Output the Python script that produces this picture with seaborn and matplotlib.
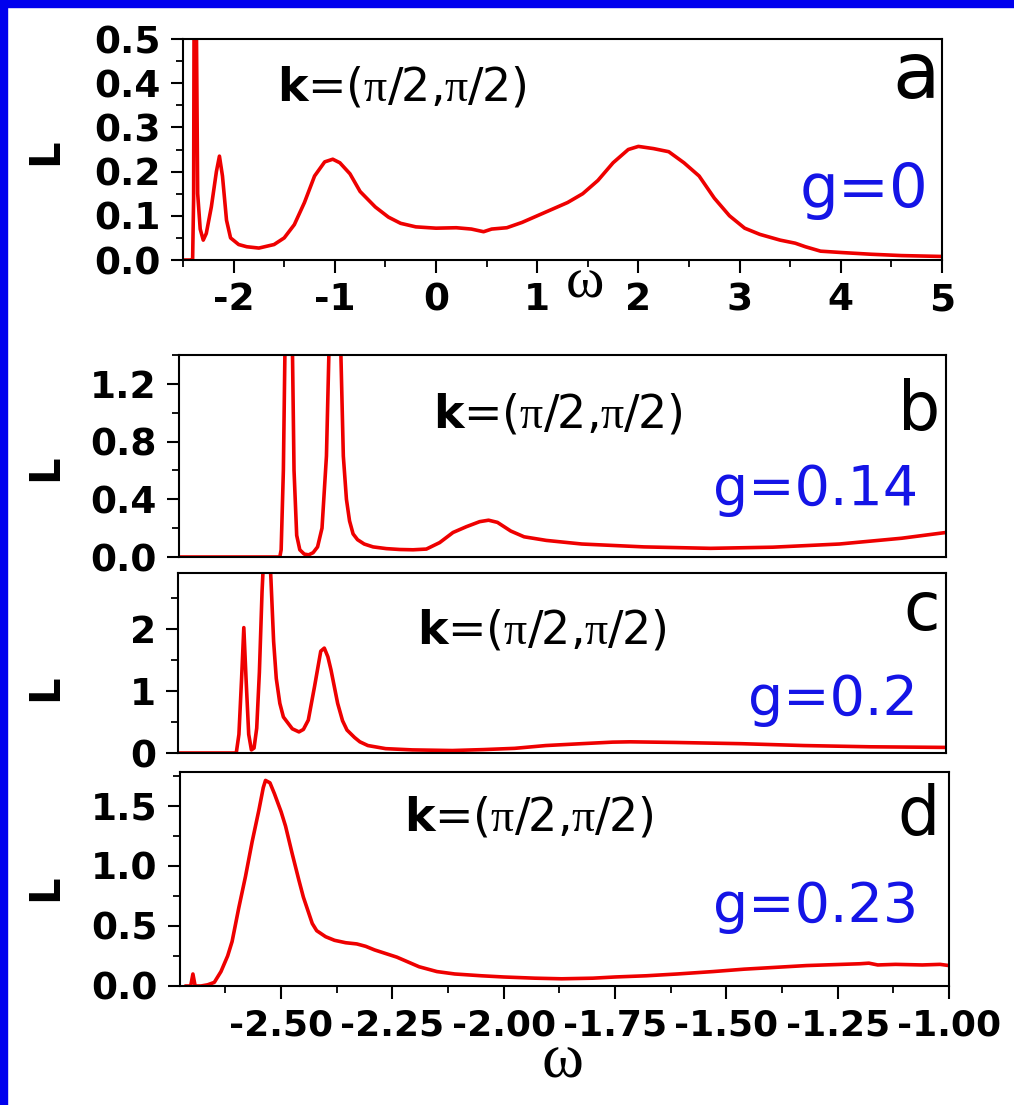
import numpy as np
import pandas as pd
import matplotlib
matplotlib.use("Agg")
import matplotlib.pyplot as plt
import seaborn as sns
from matplotlib.patches import Rectangle
from matplotlib.ticker import MultipleLocator

# ---------------- data ----------------
# panel a (g = 0), omega from -2.5 to 5
omega_a = [-2.50, -2.42, -2.405, -2.395, -2.39, -2.38, -2.37, -2.355, -2.33, -2.30,
           -2.27, -2.22, -2.17, -2.14, -2.11, -2.07, -2.03, -1.95, -1.87, -1.75,
           -1.60, -1.50, -1.40, -1.30, -1.20, -1.10, -1.02, -0.95, -0.85, -0.75,
           -0.60, -0.47, -0.35, -0.20, 0.00, 0.20, 0.35, 0.47, 0.55, 0.70,
           0.85, 1.00, 1.15, 1.30, 1.45, 1.60, 1.75, 1.90, 2.00, 2.15,
           2.30, 2.45, 2.60, 2.75, 2.90, 3.05, 3.20, 3.40, 3.55, 3.65,
           3.80, 4.00, 4.30, 4.60, 5.00]
L_a = [0.0, 0.0, 0.0, 0.14, 0.6, 3.0, 0.6, 0.15, 0.07, 0.045,
       0.06, 0.12, 0.20, 0.235, 0.19, 0.09, 0.05, 0.035, 0.03, 0.027,
       0.035, 0.05, 0.08, 0.13, 0.19, 0.222, 0.228, 0.22, 0.195, 0.155,
       0.12, 0.097, 0.083, 0.075, 0.072, 0.073, 0.07, 0.064, 0.07, 0.073,
       0.085, 0.10, 0.115, 0.13, 0.15, 0.18, 0.22, 0.25, 0.257, 0.252,
       0.245, 0.22, 0.19, 0.14, 0.10, 0.072, 0.058, 0.045, 0.038, 0.03,
       0.02, 0.017, 0.013, 0.010, 0.008]

# panel b (g = 0.14)
omega_b = [-2.73, -2.50, -2.497, -2.492, -2.486, -2.480, -2.474, -2.468, -2.462, -2.455,
           -2.445, -2.435, -2.425, -2.415, -2.405, -2.395, -2.388, -2.380, -2.372, -2.364,
           -2.357, -2.350, -2.343, -2.335, -2.325, -2.310, -2.290, -2.260, -2.230, -2.200,
           -2.170, -2.140, -2.110, -2.080, -2.050, -2.030, -2.010, -1.980, -1.950, -1.900,
           -1.820, -1.680, -1.530, -1.390, -1.240, -1.100, -1.000]
L_b = [0.0, 0.0, 0.05, 0.6, 2.0, 3.0, 2.0, 0.6, 0.15, 0.05,
       0.02, 0.015, 0.03, 0.07, 0.2, 0.7, 1.6, 3.5, 3.5, 1.6,
       0.7, 0.40, 0.25, 0.16, 0.12, 0.09, 0.07, 0.058, 0.052, 0.05,
       0.055, 0.10, 0.17, 0.21, 0.245, 0.255, 0.24, 0.18, 0.14, 0.115,
       0.09, 0.07, 0.06, 0.068, 0.09, 0.13, 0.17]

# panel c (g = 0.2)
omega_c = [-2.73, -2.596, -2.590, -2.584, -2.579, -2.574, -2.568, -2.562, -2.556, -2.550,
           -2.544, -2.538, -2.532, -2.524, -2.518, -2.512, -2.506, -2.498, -2.490, -2.470,
           -2.455, -2.445, -2.434, -2.420, -2.406, -2.398, -2.390, -2.383, -2.368, -2.357,
           -2.347, -2.330, -2.318, -2.300, -2.260, -2.200, -2.110, -2.040, -1.970, -1.900,
           -1.820, -1.750, -1.710, -1.610, -1.460, -1.320, -1.170, -1.000]
L_c = [0.0, 0.0, 0.3, 1.2, 2.02, 1.2, 0.3, 0.05, 0.08, 0.4,
       1.3, 2.6, 3.5, 3.6, 2.8, 1.8, 1.2, 0.8, 0.58, 0.39,
       0.34, 0.38, 0.53, 1.07, 1.64, 1.69, 1.55, 1.34, 0.8, 0.52,
       0.37, 0.25, 0.18, 0.12, 0.07, 0.05, 0.04, 0.055, 0.075, 0.12,
       0.15, 0.175, 0.18, 0.17, 0.15, 0.12, 0.10, 0.09]

# panel d (g = 0.23)
omega_d = [-2.715, -2.703, -2.698, -2.693, -2.680, -2.665, -2.650, -2.635, -2.620, -2.610,
           -2.595, -2.580, -2.565, -2.550, -2.540, -2.535, -2.525, -2.515, -2.500, -2.490,
           -2.475, -2.460, -2.450, -2.440, -2.430, -2.420, -2.400, -2.380, -2.355, -2.330,
           -2.310, -2.290, -2.265, -2.240, -2.215, -2.190, -2.150, -2.110, -2.050, -2.000,
           -1.930, -1.870, -1.800, -1.750, -1.680, -1.610, -1.530, -1.460, -1.390, -1.320,
           -1.240, -1.200, -1.180, -1.160, -1.120, -1.060, -1.020, -1.000]
L_d = [0.0, 0.0, 0.10, 0.0, 0.0, 0.01, 0.03, 0.12, 0.25, 0.37,
       0.65, 0.91, 1.20, 1.46, 1.65, 1.71, 1.69, 1.60, 1.45, 1.33,
       1.10, 0.88, 0.74, 0.63, 0.52, 0.46, 0.41, 0.38, 0.36, 0.35,
       0.33, 0.30, 0.27, 0.24, 0.20, 0.16, 0.12, 0.10, 0.085, 0.075,
       0.065, 0.06, 0.065, 0.075, 0.085, 0.10, 0.12, 0.14, 0.155, 0.17,
       0.18, 0.185, 0.19, 0.175, 0.18, 0.175, 0.18, 0.17]

panel_letters = ["a", "b", "c", "d"]
g_labels = ["g=0", "g=0.14", "g=0.2", "g=0.23"]
k_label = r"$\mathbf{k}$=($\mathrm{\pi}$/2,$\mathrm{\pi}$/2)"

xticks_a = [-2, -1, 0, 1, 2, 3, 4, 5]
xticks_d = [-2.50, -2.25, -2.00, -1.75, -1.50, -1.25, -1.00]
yticks_a = [0.0, 0.1, 0.2, 0.3, 0.4, 0.5]
yticks_b = [0.0, 0.4, 0.8, 1.2]
yticks_c = [0, 1, 2]
yticks_d = [0.0, 0.5, 1.0, 1.5]

# ---------------- style ----------------
sns.set_theme(style="ticks")
plt.rcParams["font.family"] = ["DejaVu Sans"]
plt.rcParams["mathtext.fontset"] = "custom"
plt.rcParams["mathtext.rm"] = "Liberation Serif"
plt.rcParams["mathtext.bf"] = "DejaVu Sans:bold"
plt.rcParams["text.color"] = "black"
plt.rcParams["xtick.color"] = "black"
plt.rcParams["ytick.color"] = "black"
plt.rcParams["xtick.labelcolor"] = "black"
plt.rcParams["ytick.labelcolor"] = "black"
plt.rcParams["axes.labelcolor"] = "black"

W, H = 1014, 1105
fig = plt.figure(figsize=(W / 100, H / 100), dpi=100)
fig.patch.set_facecolor("white")

RED = "#EE0000"
BLUE = "#1414E6"

# blue frame (top and left)
fig.add_artist(Rectangle((0, 1 - 7 / H), 1, 7 / H, transform=fig.transFigure,
                         color="#0000EE", zorder=10))
fig.add_artist(Rectangle((0, 0), 7 / W, 1, transform=fig.transFigure,
                         color="#0000EE", zorder=10))


def px_axes(l, t, r, b):
    return fig.add_axes([l / W, 1 - b / H, (r - l) / W, (b - t) / H])


def ftext(x, y, s, **kw):
    fig.text(x / W, 1 - y / H, s, **kw)


def style_axes(ax):
    for sp in ax.spines.values():
        sp.set_visible(True)
        sp.set_color("black")
        sp.set_linewidth(1.5)
    ax.set_facecolor("white")
    ax.grid(False)
    ax.tick_params(which="major", direction="out", length=9, width=1.5,
                   color="black", labelcolor="black", pad=7, top=False, right=False)
    ax.tick_params(which="minor", direction="out", length=5, width=1.3,
                   color="black", top=False, right=False)
    ax.set_xlabel("")
    ax.set_ylabel("")


TICKFS = 27

axes_px = [(183, 39, 942, 260), (179, 355, 946, 557),
           (178, 573, 946, 753), (180, 772, 949, 986)]
data = [(omega_a, L_a), (omega_b, L_b), (omega_c, L_c), (omega_d, L_d)]
ylims = [(0, 0.5), (0, 1.4), (0, 2.9), (0, 1.78)]
yticks_all = [yticks_a, yticks_b, yticks_c, yticks_d]
yfmt = ["{:.1f}", "{:.1f}", "{:.0f}", "{:.1f}"]
yminor = [0.05, 0.2, 0.5, 0.25]

axs = []
for i, (pos, (xs, ys)) in enumerate(zip(axes_px, data)):
    ax = px_axes(*pos)
    df = pd.DataFrame({"omega": xs, "L": ys})
    sns.lineplot(data=df, x="omega", y="L", ax=ax, color=RED, linewidth=2.6,
                 sort=False, estimator=None)
    style_axes(ax)
    ax.set_ylim(*ylims[i])
    ax.set_yticks(yticks_all[i], [yfmt[i].format(v) for v in yticks_all[i]],
                  fontweight="bold", fontsize=TICKFS, color="black")
    ax.yaxis.set_minor_locator(MultipleLocator(yminor[i]))
    axs.append(ax)

# x axes
axs[0].set_xlim(-2.5, 5)
axs[0].set_xticks(xticks_a, [str(v) for v in xticks_a], fontweight="bold",
                  fontsize=TICKFS, color="black")
axs[0].xaxis.set_minor_locator(MultipleLocator(0.5))

for ax in axs[1:]:
    ax.set_xlim(-2.727, -1.0)
for ax in axs[1:3]:
    ax.set_xticks([])
    ax.tick_params(axis="x", which="both", bottom=False, labelbottom=False)
axs[3].set_xticks(xticks_d, [f"{v:.2f}" for v in xticks_d], fontweight="bold",
                  fontsize=26, color="black")
axs[3].xaxis.set_minor_locator(MultipleLocator(0.125))

# y labels "L"
for yc in [152, 468, 688, 888]:
    ftext(45, yc, "L", rotation=90, ha="center", va="center",
          fontsize=30, fontweight="bold")

# k labels
for (xc, yc) in [(402, 88), (558, 415), (542, 631), (529, 818)]:
    ftext(xc, yc, k_label, ha="center", va="center", fontsize=33, color="black")

# panel letters (right aligned, baseline)
for s, (xr, yb, fs) in zip(panel_letters, [(940, 98, 56), (940, 430, 48),
                                           (940, 630, 48), (940, 835, 48)]):
    ftext(xr, yb, s, ha="right", va="baseline", fontsize=fs, color="black")

# g labels
for s, (xr, yb, fs) in zip(g_labels, [(928, 207, 44), (918, 505, 40),
                                      (918, 715, 40), (918, 922, 40)]):
    ftext(xr, yb, s, ha="right", va="baseline", fontsize=fs, color=BLUE)

# omega axis labels
ftext(585, 298, "ω", ha="center", va="baseline", fontsize=42,
      family=["Liberation Serif", "DejaVu Serif"])
ftext(563, 1078, "ω", ha="center", va="baseline", fontsize=46,
      family=["Liberation Serif", "DejaVu Serif"])

fig.savefig("out.png", dpi=100, facecolor="white")
